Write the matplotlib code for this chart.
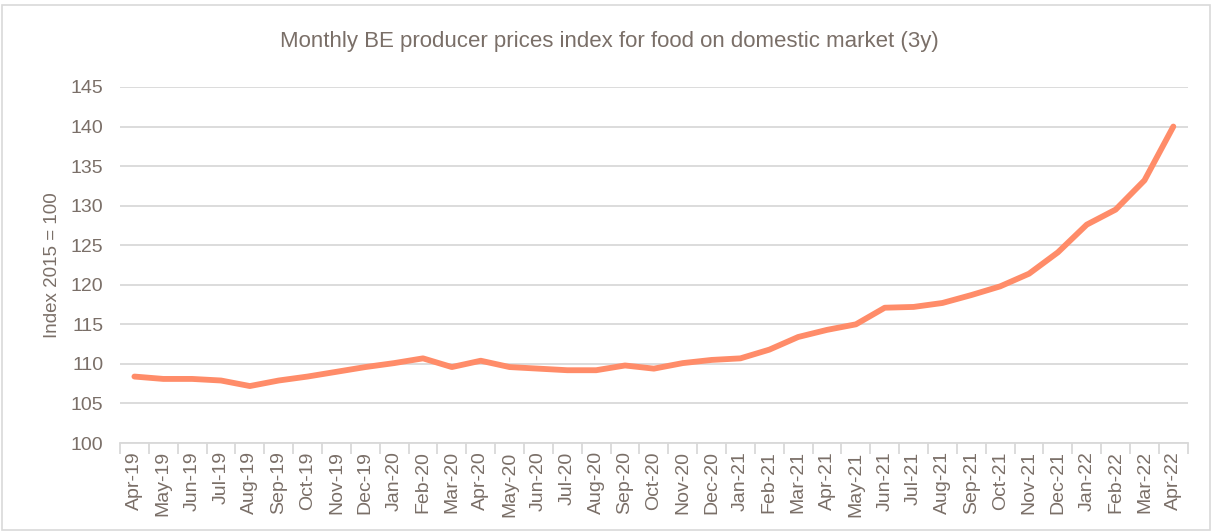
import matplotlib
matplotlib.use("Agg")
import matplotlib.pyplot as plt
from matplotlib.patches import Rectangle
import numpy as np

months = ["Apr-19", "May-19", "Jun-19", "Jul-19", "Aug-19", "Sep-19", "Oct-19", "Nov-19",
          "Dec-19", "Jan-20", "Feb-20", "Mar-20", "Apr-20", "May-20", "Jun-20", "Jul-20",
          "Aug-20", "Sep-20", "Oct-20", "Nov-20", "Dec-20", "Jan-21", "Feb-21", "Mar-21",
          "Apr-21", "May-21", "Jun-21", "Jul-21", "Aug-21", "Sep-21", "Oct-21", "Nov-21",
          "Dec-21", "Jan-22", "Feb-22", "Mar-22", "Apr-22"]
index_values = [108.4, 108.1, 108.1, 107.9, 107.2, 107.9, 108.4, 109.0,
                109.6, 110.1, 110.7, 109.6, 110.4, 109.6, 109.4, 109.2,
                109.2, 109.8, 109.4, 110.1, 110.5, 110.7, 111.8, 113.4,
                114.3, 115.0, 117.1, 117.2, 117.7, 118.7, 119.8, 121.4,
                124.1, 127.6, 129.5, 133.2, 140.0]
y_ticks = [100, 105, 110, 115, 120, 125, 130, 135, 140, 145]

text_col = "#7a6f68"
grid_col = "#d9d9d9"
line_col = "#ff8c69"

plt.rcParams['font.family'] = ['Liberation Sans', 'DejaVu Sans']

fig = plt.figure(figsize=(12.12, 5.31), dpi=100)
ax = fig.add_axes([0.099, 0.1657, 0.881, 0.6705])

x = np.arange(len(months))
ax.plot(x, index_values, color=line_col, linewidth=4.2, solid_capstyle='round',
        solid_joinstyle='round', zorder=3)

ax.set_xlim(-0.5, len(months) - 0.5)
ax.set_ylim(100, 145)
ax.set_yticks(y_ticks)
ax.yaxis.grid(True, color=grid_col, linewidth=1.3)
ax.set_axisbelow(True)

# category labels centered, tick marks between categories (Excel style)
ax.set_xticks(x)
ax.set_xticklabels(months, rotation=90, fontsize=14, color=text_col)
ax.set_xticks(np.arange(-0.5, len(months)), minor=True)
ax.tick_params(axis='x', which='major', length=0, pad=6)
ax.tick_params(axis='x', which='minor', length=8, color=grid_col, width=1.3)
ax.tick_params(axis='y', length=0, labelsize=14, labelcolor=text_col, pad=12)

for side in ['top', 'right', 'left']:
    ax.spines[side].set_visible(False)
ax.spines['bottom'].set_color(grid_col)
ax.spines['bottom'].set_linewidth(1.3)

ax.set_ylabel("Index 2015 = 100", fontsize=13.5, color=text_col)
ax.yaxis.set_label_coords(-0.055, 0.5)
fig.text(0.503, 0.921, "Monthly BE producer prices index for food on domestic market (3y)",
         ha='center', va='center', fontsize=16, color=text_col)

# light frame around the chart
fig.patches.append(Rectangle((0.002, 0.002), 0.996, 0.988, transform=fig.transFigure,
                             fill=False, edgecolor="#d9d9d9", linewidth=1.2))

fig.savefig("out.png", dpi=100)
